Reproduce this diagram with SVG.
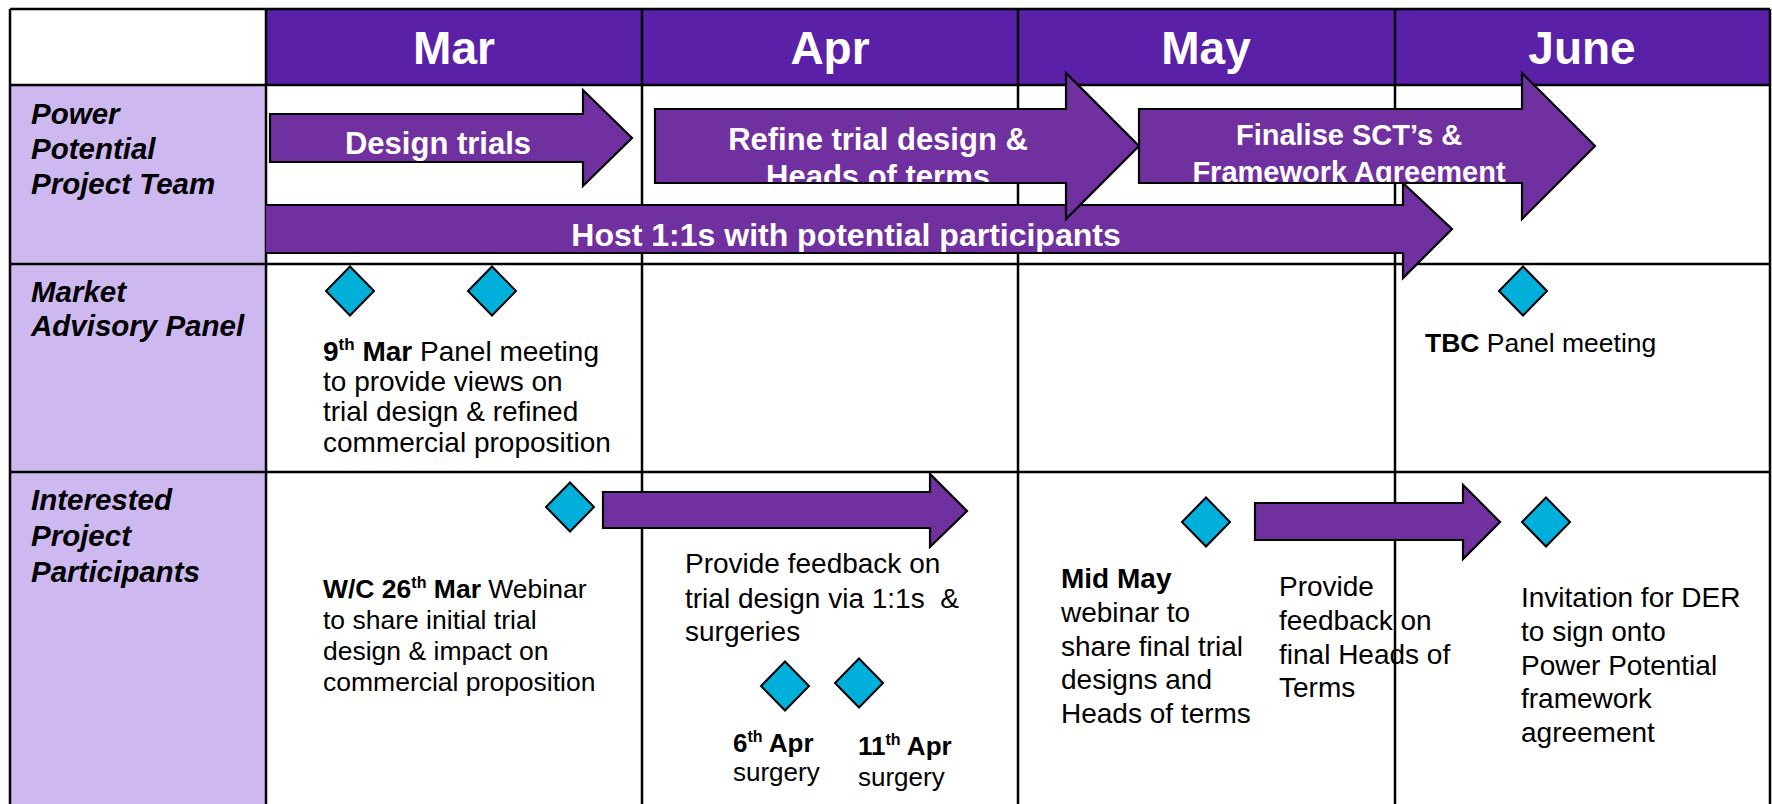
<svg xmlns="http://www.w3.org/2000/svg" width="1772" height="804" viewBox="0 0 1772 804">
<style>
.bg{fill:#ffffff}
.hdr{fill:#5A20A8}
.lav{fill:#CEB8F0}
.grid{stroke:#000;stroke-width:2.5;fill:none}
.arr{fill:#7030A0;stroke:none}
.out{fill:none;stroke:#000;stroke-width:2.2;stroke-linejoin:miter}
.dia{fill:#00B0DA;stroke:#000;stroke-width:2}
.month{font-family:"Liberation Sans",Arial,sans-serif;font-weight:bold;font-size:46px;fill:#fff;text-anchor:middle}
.rowlab{font-family:"Liberation Sans",Arial,sans-serif;font-weight:bold;font-style:italic;font-size:29.5px;fill:#000}
.alab{font-family:"Liberation Sans",Arial,sans-serif;font-weight:bold;fill:#fff;text-anchor:middle}
.t26{font-family:"Liberation Sans",Arial,sans-serif;font-size:26.5px;fill:#000}
.t28{font-family:"Liberation Sans",Arial,sans-serif;font-size:28px;fill:#000}
.t27{font-family:"Liberation Sans",Arial,sans-serif;font-size:26px;fill:#000}
.b{font-weight:bold}
</style>
<defs>
<path id="dm" d="M0,-24.5 L24,0 L0,24.5 L-24,0 Z"/>
</defs>

<g id="table">
<rect class="bg" x="0" y="0" width="1772" height="804"/>
<rect class="hdr" x="266" y="9" width="1504" height="76"/>
<rect class="lav" x="10" y="85" width="256" height="719"/>
</g>

<g id="row-labels">
<text class="rowlab"><tspan x="31" y="124">Power</tspan><tspan x="31" y="159">Potential</tspan><tspan x="31" y="194">Project Team</tspan></text>
<text class="rowlab"><tspan x="31" y="302">Market</tspan><tspan x="31" y="336">Advisory Panel</tspan></text>
<text class="rowlab"><tspan x="31" y="510">Interested</tspan><tspan x="31" y="546">Project</tspan><tspan x="31" y="582">Participants</tspan></text>
</g>

<g id="months">
<text class="month" x="454" y="64">Mar</text>
<text class="month" x="830" y="64">Apr</text>
<text class="month" x="1206" y="64">May</text>
<text class="month" x="1582" y="64">June</text>
</g>

<g id="notes">
<text class="t28"><tspan x="323" y="361"><tspan class="b">9</tspan><tspan class="b" font-size="17" dy="-11">th</tspan><tspan class="b" dy="11"> Mar</tspan> Panel meeting</tspan><tspan x="323" y="391">to provide views on</tspan><tspan x="323" y="421">trial design &amp; refined</tspan><tspan x="323" y="452">commercial proposition</tspan></text>
<text class="t26" x="1425" y="352"><tspan class="b">TBC</tspan> Panel meeting</text>
<text class="t26"><tspan x="323" y="598"><tspan class="b">W/C 26</tspan><tspan class="b" font-size="16" dy="-10">th</tspan><tspan class="b" dy="10"> Mar</tspan> Webinar</tspan><tspan x="323" y="629">to share initial trial</tspan><tspan x="323" y="660">design &amp; impact on</tspan><tspan x="323" y="691">commercial proposition</tspan></text>
<text class="t28"><tspan x="685" y="573">Provide feedback on</tspan><tspan x="685" y="608">trial design via 1:1s&#160; &amp;</tspan><tspan x="685" y="641">surgeries</tspan></text>
<text class="t27 b" x="733" y="752">6<tspan font-size="16" dy="-10">th</tspan><tspan dy="10"> Apr</tspan></text>
<text class="t27" x="733" y="781">surgery</text>
<text class="t27 b" x="858" y="755">11<tspan font-size="16" dy="-10">th</tspan><tspan dy="10"> Apr</tspan></text>
<text class="t27" x="858" y="786">surgery</text>
<text class="t28"><tspan x="1061" y="588" class="b">Mid May</tspan><tspan x="1061" y="622">webinar to</tspan><tspan x="1061" y="656">share final trial</tspan><tspan x="1061" y="689">designs and</tspan><tspan x="1061" y="723">Heads of terms</tspan></text>
<text class="t28"><tspan x="1279" y="596">Provide</tspan><tspan x="1279" y="630">feedback on</tspan><tspan x="1279" y="664">final Heads of</tspan><tspan x="1279" y="697">Terms</tspan></text>
<text class="t28"><tspan x="1521" y="607">Invitation for DER</tspan><tspan x="1521" y="641">to sign onto</tspan><tspan x="1521" y="675">Power Potential</tspan><tspan x="1521" y="708">framework</tspan><tspan x="1521" y="742">agreement</tspan></text>
</g>

<g id="gridlines">
<path class="grid" d="M10,9 H1770 M10,85 H1770 M10,264 H1770 M10,472 H1770 M10,9 V804 M1770,9 V804 M266,9 V804 M642,9 V804 M1018,9 V804 M1395,9 V804"/>
</g>

<g id="milestones">
<use href="#dm" class="dia" x="350" y="291"/>
<use href="#dm" class="dia" x="492" y="291"/>
<use href="#dm" class="dia" x="1523" y="291"/>
<use href="#dm" class="dia" x="570" y="507"/>
<use href="#dm" class="dia" x="785" y="686"/>
<use href="#dm" class="dia" x="859" y="683"/>
<use href="#dm" class="dia" x="1206" y="522"/>
<use href="#dm" class="dia" x="1546" y="522"/>
</g>

<g id="connectors">
<g id="arrow-host">
<path class="arr" d="M266,205 H1403 V183 L1452,229 L1403,278 V253 H266 Z"/>
<text class="alab" x="846" y="246" font-size="32">Host 1:1s with potential participants</text>
<path class="out" d="M266,205 H1403 V183 L1452,229 L1403,278 V253 H266"/>
</g>
<g id="arrow-design">
<path class="arr" d="M270,114 H583 V90 L632,138 L583,186 V162 H270 Z"/>
<text class="alab" x="438" y="154" font-size="31">Design trials</text>
<path class="out" d="M270,114 H583 V90 L632,138 L583,186 V162 H270 Z"/>
</g>
<g id="arrow-refine">
<path class="arr" d="M655,109 H1066 V73 L1139,146 L1066,219 V183 H655 Z"/>
<text class="alab" font-size="31"><tspan x="878" y="150">Refine trial design &amp;</tspan><tspan x="878" y="187">Heads of terms</tspan></text>
<path class="out" d="M655,109 H1066 V73 L1139,146 L1066,219 V183 H655 Z"/>
</g>
<g id="arrow-finalise">
<path class="arr" d="M1139,109 H1522 V73 L1595,146 L1522,219 V183 H1139 Z"/>
<text class="alab" font-size="29"><tspan x="1349" y="145">Finalise SCT’s &amp;</tspan><tspan x="1349" y="182">Framework Agreement</tspan></text>
<path class="out" d="M1139,109 H1522 V73 L1595,146 L1522,219 V183 H1139 Z"/>
</g>
<g id="arrow-feedback-apr">
<path class="arr" d="M603,492 H930 V474 L967,511 L930,547 V528 H603 Z"/>
<path class="out" d="M603,492 H930 V474 L967,511 L930,547 V528 H603 Z"/>
</g>
<g id="arrow-feedback-may">
<path class="arr" d="M1255,503 H1463 V485 L1500,522 L1463,559 V540 H1255 Z"/>
<path class="out" d="M1255,503 H1463 V485 L1500,522 L1463,559 V540 H1255 Z"/>
</g>
</g>
</svg>
